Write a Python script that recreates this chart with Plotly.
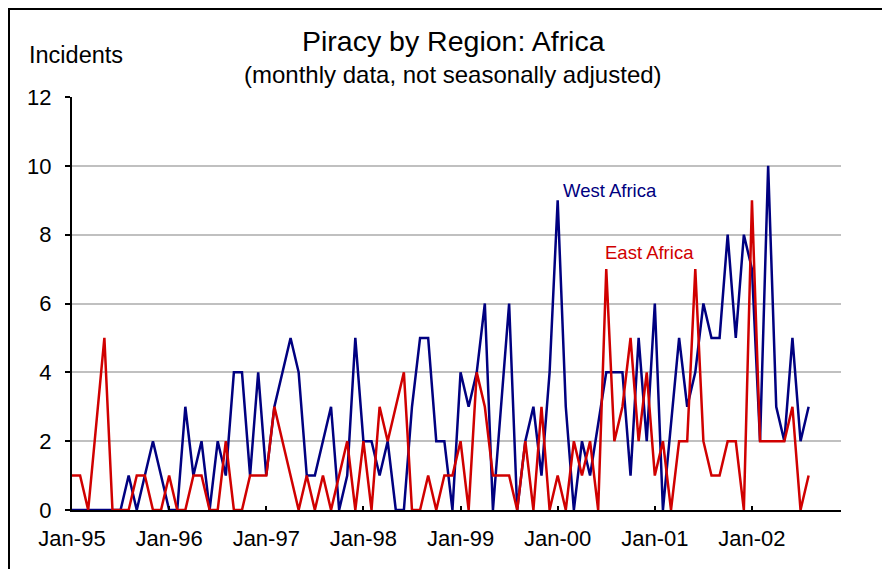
import plotly.graph_objects as go

# Monthly incidents, Jan-95 .. Aug-02
west_africa = [0, 0, 0, 0, 0, 0, 0, 1, 0, 1, 2, 1,
               0, 0, 3, 1, 2, 0, 2, 1, 4, 4, 1, 4,
               1, 3, 4, 5, 4, 1, 1, 2, 3, 0, 1, 5,
               2, 2, 1, 2, 0, 0, 3, 5, 5, 2, 2, 0,
               4, 3, 4, 6, 0, 3, 6, 0, 2, 3, 1, 4,
               9, 3, 0, 2, 1, 2.5, 4, 4, 4, 1, 5, 2,
               6, 0, 2.5, 5, 3, 4, 6, 5, 5, 8, 5, 8,
               7, 2, 10, 3, 2, 5, 2, 3]
east_africa = [1, 1, 0, 2.5, 5, 0, 0, 0, 1, 1, 0, 0,
               1, 0, 0, 1, 1, 0, 0, 2, 0, 0, 1, 1,
               1, 3, 2, 1, 0, 1, 0, 1, 0, 1, 2, 0,
               2, 0, 3, 2, 3, 4, 0, 0, 1, 0, 1, 1,
               2, 0, 4, 3, 1, 1, 1, 0, 2, 0, 3, 0,
               1, 0, 2, 1, 2, 0, 7, 2, 3, 5, 2, 4,
               1, 2, 0, 2, 2, 7, 2, 1, 1, 2, 2, 0,
               9, 2, 2, 2, 2, 3, 0, 1]
tick_months = [0, 12, 24, 36, 48, 60, 72, 84]
tick_labels = ["Jan-95", "Jan-96", "Jan-97", "Jan-98", "Jan-99", "Jan-00", "Jan-01", "Jan-02"]
y_ticks = [0, 2, 4, 6, 8, 10, 12]

months = list(range(len(west_africa)))

BLUE = "#000080"
RED = "#d00000"
FONT = "Liberation Sans, Arial, sans-serif"

# page is offset by the browser's 8px body margin
OFF = 8
W, H = 890 - OFF, 569 - OFF
L, R, T, B = 72 - OFF, 841 - OFF, 97 - OFF, 510 - OFF   # plot area in figure pixels

fig = go.Figure()
fig.add_trace(go.Scatter(x=months, y=west_africa, mode="lines", name="West Africa",
                         line=dict(color=BLUE, width=2.5)))
fig.add_trace(go.Scatter(x=months, y=east_africa, mode="lines", name="East Africa",
                         line=dict(color=RED, width=2.5)))

fig.update_layout(
    width=W, height=H,
    margin=dict(l=L, r=W - R, t=T, b=H - B, pad=0),
    paper_bgcolor="white", plot_bgcolor="white",
    showlegend=False,
    font=dict(family=FONT, color="black", size=22),
    xaxis=dict(range=[0, 95], tickmode="array", tickvals=tick_months, ticktext=tick_labels,
               showgrid=False, zeroline=False, showline=True, linecolor="black", linewidth=2,
               ticks="inside", ticklen=4, tickwidth=2, tickcolor="black",
               tickfont=dict(size=22, family=FONT), ticklabelstandoff=8),
    yaxis=dict(range=[0, 12], tickmode="array", tickvals=y_ticks,
               showgrid=True, gridcolor="#c0c0c0", gridwidth=2, zeroline=False,
               showline=True, linecolor="black", linewidth=2,
               ticks="outside", ticklen=5, tickwidth=2, tickcolor="black",
               tickfont=dict(size=22, family=FONT), ticklabelstandoff=9),
)

def px_x(px):
    return (px - OFF - L) / float(R - L)

def px_y(py):
    return (B - (py - OFF)) / float(B - T)

fig.add_annotation(text="Piracy by Region: Africa", xref="paper", yref="paper",
                   x=px_x(453), y=px_y(41), showarrow=False, xanchor="center", yanchor="middle",
                   font=dict(size=28.5, family=FONT))
fig.add_annotation(text="(monthly data, not seasonally adjusted)", xref="paper", yref="paper",
                   x=px_x(453), y=px_y(74), showarrow=False, xanchor="center", yanchor="middle",
                   font=dict(size=24, family=FONT))
fig.add_annotation(text="Incidents", xref="paper", yref="paper",
                   x=px_x(76), y=px_y(55), showarrow=False, xanchor="center", yanchor="middle",
                   font=dict(size=23.5, family=FONT))
fig.add_annotation(text="West Africa", xref="x", yref="y", x=66.5, y=9.27, showarrow=False,
                   xanchor="center", yanchor="middle", font=dict(size=18.5, family=FONT, color=BLUE))
fig.add_annotation(text="East Africa", xref="x", yref="y", x=71.4, y=7.47, showarrow=False,
                   xanchor="center", yanchor="middle", font=dict(size=18.5, family=FONT, color=RED))

# frame lines (top and left)
fig.add_shape(type="line", xref="paper", yref="paper", x0=px_x(OFF), x1=px_x(900),
              y0=px_y(OFF), y1=px_y(OFF), line=dict(color="black", width=4))
fig.add_shape(type="line", xref="paper", yref="paper", x0=px_x(OFF), x1=px_x(OFF),
              y0=px_y(OFF), y1=px_y(600), line=dict(color="black", width=4))

fig.write_html("out.html")
